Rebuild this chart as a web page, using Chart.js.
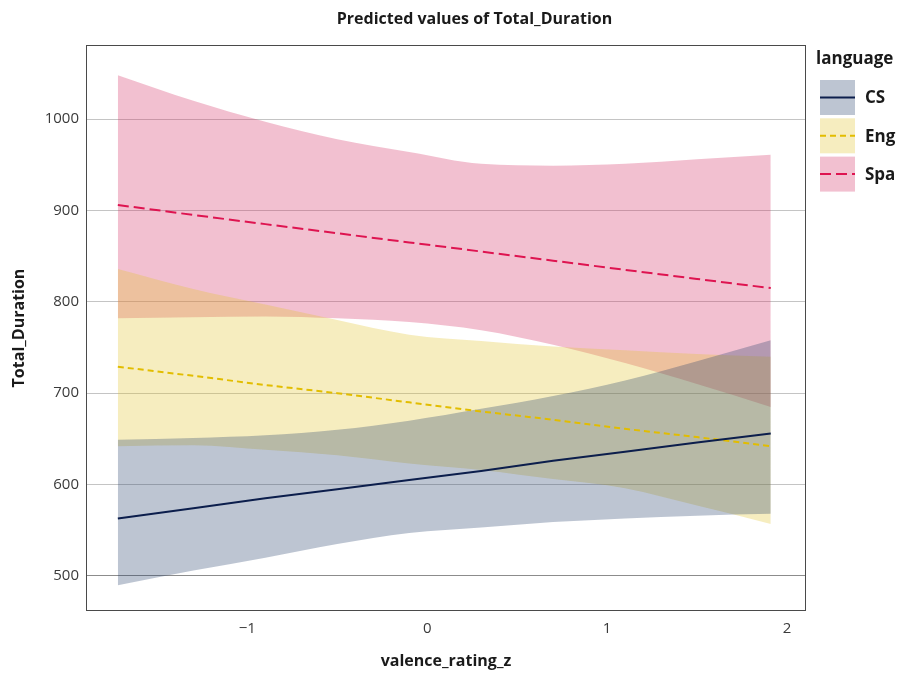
<!DOCTYPE html>
<html>
<head>
<meta charset="utf-8">
<script src="https://cdn.jsdelivr.net/npm/chart.js@4.4.1/dist/chart.umd.min.js"></script>
<style>
  html, body { margin: 0; padding: 0; background: #ffffff; }
  #wrap { width: 906px; height: 673px; }
</style>
</head>
<body>
<div id="wrap"><canvas id="chart" width="906" height="673"></canvas></div>
<script>
// Predicted Total_Duration by valence_rating_z, one series per language
const valence = [-1.72, -1.3, -0.9, -0.5, -0.1, 0.3, 0.7, 1.1, 1.5, 1.91];

const predCS  = [563, 574, 585, 595, 605, 615, 626, 636, 646, 656];
const lowCS   = [490, 506, 520, 535, 547, 553, 559, 563, 566, 568];
const highCS  = [649, 651, 654, 660, 670, 683, 697, 714, 735, 758];

const predEng = [729, 719, 709, 700, 690, 680, 671, 661, 652, 642];
const lowEng  = [642, 643, 638, 632, 623, 616, 606, 596, 577, 557];
const highEng = [836, 814, 797, 780, 764, 757, 751, 747, 743, 740];

const predSpa = [906, 895, 885, 875, 865, 855, 845, 835, 825, 815];
const lowSpa  = [782, 783, 784, 782, 778, 769, 753, 733, 710, 685];
const highSpa = [1048, 1020, 997, 978, 964, 951, 949, 951, 956, 961];

const languages = ['CS', 'Eng', 'Spa'];
const xTicks = [-1, 0, 1, 2];
const yTicks = [500, 600, 700, 800, 900, 1000];

const FONT = '"Open Sans", "DejaVu Sans", sans-serif';

const styles = {
  CS:  { line: '#0c1e4c', band: 'rgba(38, 62, 105, 0.3)',  dash: [] },
  Eng: { line: '#e2bd00', band: 'rgba(225, 195, 42, 0.3)', dash: [6, 4] },
  Spa: { line: '#de1450', band: 'rgba(212, 48, 98, 0.3)',  dash: [11, 5] }
};

const pts = ys => valence.map((x, i) => ({ x: x, y: ys[i] }));

const series = [
  { name: 'CS',  pred: predCS,  low: lowCS,  high: highCS,  order: 1 },
  { name: 'Eng', pred: predEng, low: lowEng, high: highEng, order: 2 },
  { name: 'Spa', pred: predSpa, low: lowSpa, high: highSpa, order: 3 }
];

const datasets = [];
// confidence ribbons: an invisible lower bound, then the upper bound filled down to it
series.forEach(s => {
  const lowIndex = datasets.length;
  datasets.push({
    label: s.name + ' low', data: pts(s.low), order: s.order,
    borderWidth: 0, pointRadius: 0, fill: false,
    cubicInterpolationMode: 'monotone'
  });
  datasets.push({
    label: s.name + ' band', data: pts(s.high), order: s.order,
    borderWidth: 0, pointRadius: 0,
    backgroundColor: styles[s.name].band,
    fill: lowIndex,
    cubicInterpolationMode: 'monotone'
  });
});
// predicted lines on top of every ribbon
series.forEach(s => {
  datasets.push({
    label: s.name, data: pts(s.pred), order: 0,
    borderColor: styles[s.name].line, borderWidth: 2,
    borderDash: styles[s.name].dash,
    pointRadius: 0, fill: false
  });
});

const panelBorder = {
  id: 'panelBorder',
  afterDatasetsDraw(chart) {
    const { ctx, chartArea: a } = chart;
    ctx.save();
    ctx.strokeStyle = '#4a4a4a';
    ctx.lineWidth = 1;
    ctx.strokeRect(a.left + 0.5, a.top + 0.5, a.right - a.left - 1, a.bottom - a.top - 1);
    ctx.restore();
  }
};

const headerAndLegend = {
  id: 'headerAndLegend',
  afterDraw(chart) {
    const ctx = chart.ctx;
    ctx.save();
    ctx.fillStyle = '#1a1a1a';
    ctx.textBaseline = 'middle';
    ctx.textAlign = 'center';
    ctx.font = 'bold 16px ' + FONT;
    ctx.fillText('Predicted values of Total_Duration', 474.5, 19);

    ctx.textAlign = 'left';
    ctx.font = 'bold 17px ' + FONT;
    ctx.fillText('language', 816, 59);

    languages.forEach((name, i) => {
      const st = styles[name];
      const x = 820, y = 80 + i * 38.3, w = 35, h = 35;
      ctx.fillStyle = st.band;
      ctx.fillRect(x, y, w, h);
      ctx.strokeStyle = st.line;
      ctx.lineWidth = 2;
      ctx.setLineDash(st.dash);
      ctx.beginPath();
      ctx.moveTo(x, y + h / 2);
      ctx.lineTo(x + w, y + h / 2);
      ctx.stroke();
      ctx.setLineDash([]);
      ctx.fillStyle = '#1a1a1a';
      ctx.font = 'bold 17px ' + FONT;
      ctx.fillText(name, 865, y + h / 2 + 1);
    });
    ctx.restore();
  }
};

new Chart(document.getElementById('chart'), {
  type: 'line',
  data: { datasets: datasets },
  options: {
    responsive: false,
    animation: false,
    devicePixelRatio: 1,
    layout: { padding: { top: 45, right: 100, left: 0, bottom: 0 } },
    plugins: {
      legend: { display: false },
      title: { display: false },
      tooltip: { enabled: false },
      filler: { propagate: false }
    },
    scales: {
      x: {
        type: 'linear',
        min: -1.897, max: 2.106,
        grid: { display: false, drawTicks: false },
        border: { display: false },
        afterBuildTicks: s => { s.ticks = xTicks.map(v => ({ value: v })); },
        afterFit: s => { s.height = 62; },
        ticks: {
          color: '#3a3a3a',
          font: { family: FONT, size: 15 },
          padding: 9,
          maxRotation: 0,
          callback: v => (v < 0 ? '\u2212' + Math.abs(v) : String(v))
        },
        title: {
          display: true,
          text: 'valence_rating_z',
          color: '#1a1a1a',
          font: { family: FONT, size: 16, weight: 'bold' },
          padding: { top: 0, bottom: 2 }
        }
      },
      y: {
        type: 'linear',
        min: 461.7, max: 1081,
        grid: {
          drawTicks: false,
          lineWidth: 1,
          color: c => (c.tick && c.tick.value === 500 ? '#8c8c8c' : '#c4c4c4')
        },
        border: { display: false },
        afterBuildTicks: s => { s.ticks = yTicks.map(v => ({ value: v })); },
        afterFit: s => { s.width = 86; },
        ticks: {
          color: '#3a3a3a',
          font: { family: FONT, size: 15 },
          padding: 7,
          callback: v => String(v)
        },
        title: {
          display: true,
          text: 'Total_Duration',
          color: '#1a1a1a',
          font: { family: FONT, size: 16, weight: 'bold' },
          padding: { top: 10, bottom: 0 }
        }
      }
    }
  },
  plugins: [panelBorder, headerAndLegend]
});
</script>
</body>
</html>
